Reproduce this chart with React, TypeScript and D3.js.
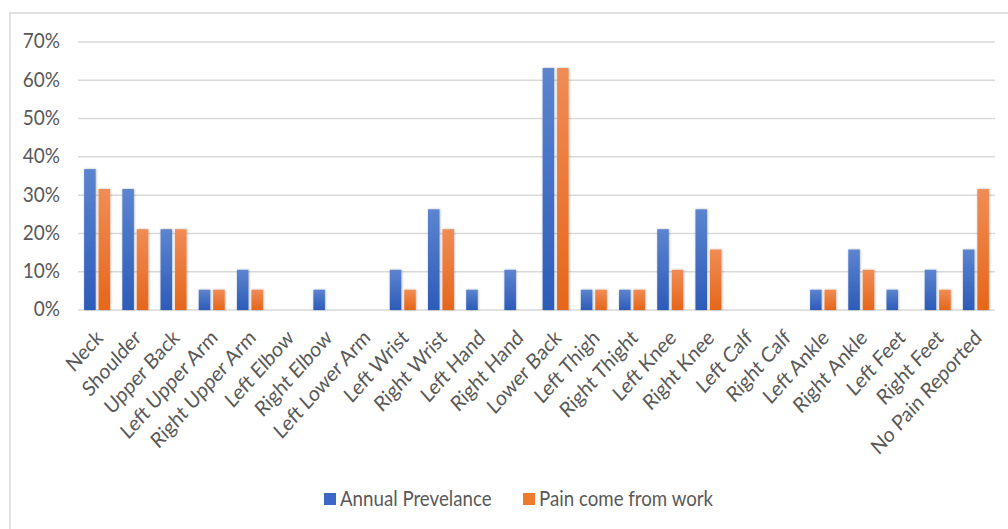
import React from "react";
import * as d3 from "d3";

const categories = ["Neck","Shoulder","Upper Back","Left Upper Arm","Right Upper Arm","Left Elbow","Right Elbow","Left Lower Arm","Left Wrist","Right Wrist","Left Hand","Right Hand","Lower Back","Left Thigh","Right Thight","Left Knee","Right Knee","Left Calf","Right Calf","Left Ankle","Right Ankle","Left Feet","Right Feet","No Pain Reported"];
const annualPrevalence = [0.368,0.316,0.211,0.053,0.105,0,0.053,0,0.105,0.263,0.053,0.105,0.632,0.053,0.053,0.211,0.263,0,0,0.053,0.158,0.053,0.105,0.158];
const painFromWork = [0.316,0.211,0.211,0.053,0.053,0,0,0,0.053,0.211,0,0,0.632,0.053,0.053,0.105,0.158,0,0,0.053,0.105,0,0.053,0.316];
const seriesNames = ["Annual Prevelance","Pain come from work"];
const yTicks = [0,0.1,0.2,0.3,0.4,0.5,0.6,0.7];

const W = 1008, H = 529;
const FONT = "Lato, 'Open Sans', sans-serif";
const SY = 1.12;

export default function App() {
  const left = 78, right = 995, top = 42, bottom = 310;
  const x0 = d3.scaleBand<string>().domain(categories).range([left, right]).paddingInner(0.32).paddingOuter(0.16);
  const x1 = d3.scaleBand<string>().domain(seriesNames).range([0, x0.bandwidth()]).paddingInner(0.2);
  const y = d3.scaleLinear().domain([0, 0.7]).range([bottom, top]);
  const series = [annualPrevalence, painFromWork];
  const fills = ["url(#gBlue)", "url(#gOrange)"];
  const legendColors = ["#3a68c4", "#ee7a2c"];
  return (
    <svg width={W} height={H} style={{ position: "absolute", left: 0, top: 0, background: "#fff" }} fontFamily={FONT}>
      <defs>
        <linearGradient id="gBlue" x1="0" y1="0" x2="0" y2="1">
          <stop offset="0" stopColor="#5c84cf" />
          <stop offset="1" stopColor="#2c5bb9" />
        </linearGradient>
        <linearGradient id="gOrange" x1="0" y1="0" x2="0" y2="1">
          <stop offset="0" stopColor="#f08c55" />
          <stop offset="1" stopColor="#e6661a" />
        </linearGradient>
        <filter id="shadow" x="-30%" y="-10%" width="160%" height="120%">
          <feDropShadow dx="0.5" dy="0" stdDeviation="1.2" floodColor="#000" floodOpacity="0.3" />
        </filter>
      </defs>
      <rect x={10} y={13} width={W + 10} height={H} fill="#fff" stroke="#d9d9d9" strokeWidth={1.5} />
      {yTicks.map((t) => (
        <g key={t}>
          <line x1={left} x2={right} y1={y(t)} y2={y(t)} stroke="#d9d9d9" strokeWidth={1.5} />
          <text transform={`translate(60,${y(t) - 1}) scale(1,${SY})`} dy="0.35em" textAnchor="end" fontSize={19} fill="#595959">{d3.format(".0%")(t)}</text>
        </g>
      ))}
      {categories.map((c, i) => (
        <g key={c} transform={`translate(${x0(c)},0)`} filter="url(#shadow)">
          {series.map((s, k) => (
            s[i] > 0 ? (
              <rect key={k} x={x1(seriesNames[k])} y={y(s[i])} width={x1.bandwidth()} height={bottom - y(s[i])} fill={fills[k]} />
            ) : null
          ))}
        </g>
      ))}
      {categories.map((c) => {
        const cx = (x0(c) as number) + x0.bandwidth() / 2 + 7;
        return (
          <text key={c} transform={`translate(${cx},${bottom + 29}) scale(1,${SY}) rotate(-45)`} textAnchor="end" fontSize={19} fill="#595959">{c}</text>
        );
      })}
      {seriesNames.map((n, k) => {
        const lx = k === 0 ? 324 : 523;
        return (
          <g key={n}>
            <rect x={lx} y={493} width={12} height={12} fill={legendColors[k]} />
            <text transform={`translate(${lx + 16},499) scale(1,${SY})`} dy="0.35em" fontSize={18.7} fill="#595959">{n}</text>
          </g>
        );
      })}
    </svg>
  );
}
